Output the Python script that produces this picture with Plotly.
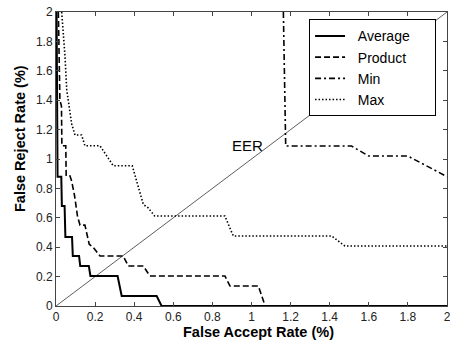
import plotly.graph_objects as go

# Data (FAR %, FRR %)
avg_x = [0.003, 0.005, 0.008, 0.027, 0.030, 0.044, 0.048, 0.082, 0.086, 0.118, 0.124, 0.168, 0.176, 0.315, 0.336, 0.515, 0.540, 2.0]
avg_y = [2.000, 1.150, 0.880, 0.880, 0.680, 0.680, 0.470, 0.470, 0.340, 0.340, 0.272, 0.272, 0.204, 0.204, 0.068, 0.068, 0.000, 0.0]

prod_x = [0.012, 0.016, 0.020, 0.028, 0.030, 0.050, 0.052, 0.070, 0.080, 0.095, 0.110, 0.123, 0.148, 0.170, 0.190, 0.225, 0.344, 0.370, 0.447, 0.480, 0.864, 0.890, 1.035, 1.070]
prod_y = [2.000, 1.600, 1.400, 1.360, 1.090, 1.090, 0.890, 0.890, 0.850, 0.750, 0.610, 0.550, 0.550, 0.420, 0.400, 0.340, 0.340, 0.272, 0.272, 0.204, 0.204, 0.136, 0.136, 0.000]

min_x = [1.163, 1.175, 1.512, 1.600, 1.800, 2.000]
min_y = [2.000, 1.088, 1.088, 1.020, 1.020, 0.880]

max_x = [0.029, 0.046, 0.055, 0.063, 0.068, 0.080, 0.097, 0.131, 0.148, 0.225, 0.293, 0.390, 0.447, 0.470, 0.505, 0.864, 0.907, 1.410, 1.478, 2.000]
max_y = [2.000, 1.700, 1.470, 1.400, 1.356, 1.240, 1.163, 1.163, 1.090, 1.090, 0.954, 0.954, 0.690, 0.670, 0.612, 0.612, 0.476, 0.476, 0.408, 0.408]

eer_x = [0, 2]
eer_y = [0, 2]

series_names = ["Average", "Product", "Min", "Max"]

ticks = [0, 0.2, 0.4, 0.6, 0.8, 1, 1.2, 1.4, 1.6, 1.8, 2]
tick_text = ["0", "0.2", "0.4", "0.6", "0.8", "1", "1.2", "1.4", "1.6", "1.8", "2"]

FONT = "Liberation Sans, Arial, sans-serif"
PAD_L = "\u00a0\u00a0"
PAD_R = "\u00a0" * 5

fig = go.Figure()
fig.add_trace(go.Scatter(x=eer_x, y=eer_y, mode="lines", showlegend=False,
                         line=dict(color="#333333", width=0.8)))
fig.add_trace(go.Scatter(x=avg_x, y=avg_y, mode="lines", name=PAD_L + series_names[0] + PAD_R,
                         line=dict(color="black", width=2)))
fig.add_trace(go.Scatter(x=prod_x, y=prod_y, mode="lines", name=PAD_L + series_names[1] + PAD_R,
                         line=dict(color="black", width=1.6, dash="6px,3px")))
fig.add_trace(go.Scatter(x=min_x, y=min_y, mode="lines", name=PAD_L + series_names[2] + PAD_R,
                         line=dict(color="black", width=1.6, dash="6px,3px,2px,3px")))
fig.add_trace(go.Scatter(x=max_x, y=max_y, mode="lines", name=PAD_L + series_names[3] + PAD_R,
                         line=dict(color="black", width=1.6, dash="1.5px,2px")))

axis_common = dict(range=[0, 2], tickvals=ticks, ticktext=tick_text,
                   ticks="inside", ticklen=4, tickcolor="#444444",
                   showline=True, linecolor="#444444", linewidth=1, mirror="ticks",
                   showgrid=False, zeroline=False, automargin=False,
                   ticklabeloverflow="allow",
                   tickfont=dict(family=FONT, size=12, color="#222222"))

fig.update_xaxes(**axis_common)
fig.update_yaxes(**axis_common)

fig.add_annotation(text="<b>False Accept Rate (%)</b>", xref="paper", yref="paper",
                   x=0.517, y=-0.09, xanchor="center", yanchor="middle", showarrow=False,
                   font=dict(family=FONT, size=14.5, color="black"))
fig.add_annotation(text="<b>False Reject Rate (%)</b>", xref="paper", yref="paper",
                   x=-0.092, y=0.568, xanchor="center", yanchor="middle", showarrow=False,
                   textangle=-90, font=dict(family=FONT, size=14.5, color="black"))
fig.add_annotation(text="EER", x=0.98, y=1.095, xanchor="center", yanchor="middle",
                   showarrow=False, font=dict(family=FONT, size=15, color="black"))

fig.update_layout(
    width=450, height=342,
    margin=dict(l=56, r=3, t=12, b=36, autoexpand=False),
    plot_bgcolor="white", paper_bgcolor="white",
    legend=dict(x=0.972, y=0.975, xanchor="right", yanchor="top",
                bgcolor="white", bordercolor="black", borderwidth=1,
                font=dict(family=FONT, size=14, color="black"),
                tracegroupgap=0),
)

fig.write_html("out.html", config={"displayModeBar": False},
               post_script="document.body.style.margin='0px';")
